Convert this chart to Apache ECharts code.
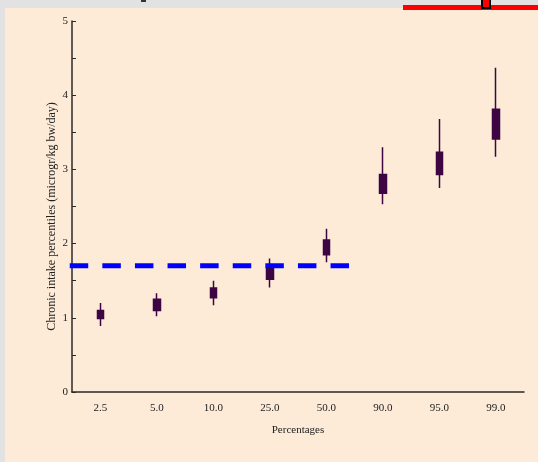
<!DOCTYPE html>
<html>
<head>
<meta charset="utf-8">
<script src="https://cdn.jsdelivr.net/npm/echarts@6/dist/echarts.min.js"></script>
<style>
  html, body { margin: 0; padding: 0; background: #e2e2e2; }
  #chart { width: 538px; height: 462px; }
</style>
</head>
<body>
<div id="chart"></div>
<script>
// percentile categories and their intake ranges [boxLow, boxHigh, whiskerLow, whiskerHigh]
const categories = ['2.5', '5.0', '10.0', '25.0', '50.0', '90.0', '95.0', '99.0'];
const boxLow = [0.99, 1.10, 1.27, 1.52, 1.85, 2.68, 2.93, 3.41];
const boxHigh = [1.10, 1.25, 1.40, 1.67, 2.05, 2.93, 3.23, 3.81];
const whiskerLow = [0.89, 1.02, 1.17, 1.41, 1.75, 2.53, 2.75, 3.17];
const whiskerHigh = [1.20, 1.33, 1.50, 1.80, 2.20, 3.30, 3.68, 4.37];
const yTicks = [0, 1, 2, 3, 4, 5];
// reference level (dashed line), spanning from band 0 to ~4.9
const refLevel = 1.7;
const refSpan = [-0.04, 4.92];

const serif = 'Liberation Serif';
const axisColor = '#2a2a2a';
const boxColor = '#3e0543';

let myChart = echarts.init(document.getElementById('chart'));
myChart.setOption({
    animation: false,
    backgroundColor: 'transparent',
    graphic: [
        { type: 'rect', z: -10, shape: { x: 5, y: 8, width: 540, height: 460 }, style: { fill: '#fdebd8' } },
        { type: 'rect', z: 10, shape: { x: 403, y: 5, width: 140, height: 5 }, style: { fill: '#ff0000' } },
        { type: 'rect', z: 11, shape: { x: 482, y: -2, width: 8, height: 10 }, style: { fill: '#ff0000', stroke: '#000', lineWidth: 2 } },
        { type: 'rect', z: 11, shape: { x: 141, y: 0, width: 5, height: 2 }, style: { fill: '#333' } }
    ],
    grid: { left: 72, right: 14, top: 21, bottom: 70 },
    xAxis: [
        {
            type: 'category',
            data: categories,
            boundaryGap: true,
            name: 'Percentages',
            nameLocation: 'middle',
            nameGap: 33,
            nameTextStyle: { fontFamily: serif, fontSize: 11, color: '#222' },
            axisLine: { lineStyle: { color: axisColor, width: 1.5 } },
            axisTick: { alignWithLabel: true, inside: true, length: 4, lineStyle: { color: axisColor } },
            axisLabel: { fontFamily: serif, fontSize: 11, color: '#222', margin: 11 },
            splitLine: { show: false }
        },
        { type: 'value', min: 0, max: 8, show: false }
    ],
    yAxis: {
        type: 'value',
        min: 0,
        max: 5,
        interval: 1,
        name: 'Chronic intake percentiles (microgr/kg bw/day)',
        nameLocation: 'middle',
        nameGap: 14,
        nameMoveOverlap: false,
        nameRotate: 90,
        nameTextStyle: { fontFamily: serif, fontSize: 12, color: '#222', padding: [0, 20, 0, 0] },
        axisLine: { show: true, lineStyle: { color: axisColor, width: 1.5 } },
        axisTick: { show: true, inside: true, length: 4, lineStyle: { color: axisColor } },
        minorTick: { show: true, splitNumber: 2, length: 4, lineStyle: { color: axisColor } },
        axisLabel: {
            fontFamily: serif, fontSize: 11, color: '#222', margin: 4,
            formatter: v => yTicks.includes(v) ? String(v) : ''
        },
        splitLine: { show: false }
    },
    series: [
        {
            type: 'candlestick',
            xAxisIndex: 0,
            barWidth: 7,
            itemStyle: {
                color: boxColor, color0: boxColor,
                borderColor: boxColor, borderColor0: boxColor,
                borderWidth: 1.5
            },
            data: categories.map((c, i) => [boxLow[i], boxHigh[i], whiskerLow[i], whiskerHigh[i]])
        },
        {
            type: 'line',
            xAxisIndex: 1,
            clip: false,
            symbol: 'none',
            z: 5,
            lineStyle: { color: '#0000ff', width: 5, type: [18.5, 14.1] },
            data: refSpan.map(x => [x, refLevel])
        }
    ]
});
</script>
</body>
</html>
